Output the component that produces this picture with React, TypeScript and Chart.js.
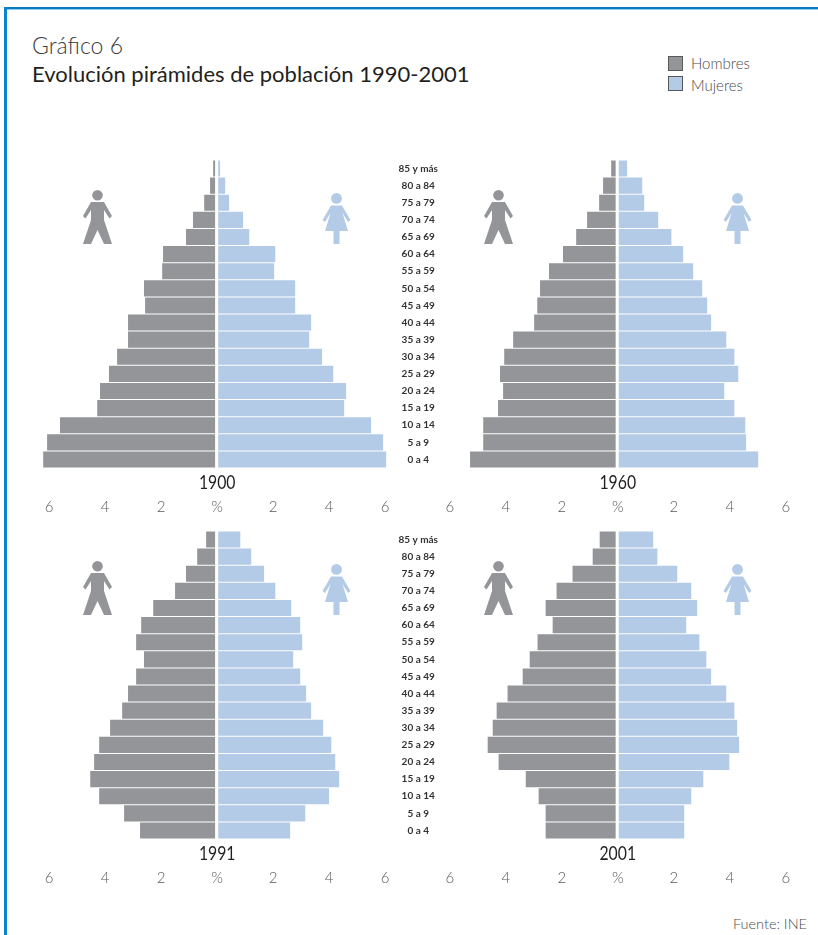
import React, { useEffect, useRef } from "react";
import { Chart, registerables } from "chart.js";

Chart.register(...registerables);

const ageGroups = ["85 y más", "80 a 84", "75 a 79", "70 a 74", "65 a 69", "60 a 64", "55 a 59", "50 a 54", "45 a 49", "40 a 44", "35 a 39", "30 a 34", "25 a 29", "20 a 24", "15 a 19", "10 a 14", "5 a 9", "0 a 4"];
const xTicks = [-6, -4, -2, 0, 2, 4, 6];

const men1900 = [0.07, 0.18, 0.39, 0.79, 1.04, 1.86, 1.89, 2.54, 2.5, 3.11, 3.11, 3.5, 3.79, 4.11, 4.21, 5.54, 6.0, 6.14];
const women1900 = [0.07, 0.25, 0.39, 0.89, 1.11, 2.04, 2.0, 2.75, 2.75, 3.32, 3.25, 3.71, 4.11, 4.57, 4.5, 5.46, 5.89, 6.0];
const men1960 = [0.16, 0.45, 0.59, 1.02, 1.41, 1.88, 2.38, 2.7, 2.8, 2.91, 3.66, 3.98, 4.13, 4.02, 4.2, 4.73, 4.73, 5.2];
const women1960 = [0.3, 0.84, 0.91, 1.41, 1.88, 2.3, 2.66, 2.98, 3.16, 3.3, 3.84, 4.13, 4.27, 3.77, 4.13, 4.52, 4.55, 4.98];
const men1991 = [0.32, 0.64, 1.04, 1.43, 2.21, 2.64, 2.82, 2.54, 2.82, 3.11, 3.32, 3.75, 4.14, 4.32, 4.46, 4.14, 3.25, 2.68];
const women1991 = [0.79, 1.18, 1.64, 2.04, 2.61, 2.93, 3.0, 2.68, 2.93, 3.14, 3.32, 3.75, 4.04, 4.18, 4.32, 3.96, 3.11, 2.57];
const men2001 = [0.57, 0.82, 1.54, 2.11, 2.5, 2.25, 2.79, 3.07, 3.32, 3.86, 4.25, 4.39, 4.57, 4.18, 3.21, 2.75, 2.5, 2.5];
const women2001 = [1.23, 1.38, 2.09, 2.59, 2.8, 2.41, 2.88, 3.13, 3.3, 3.84, 4.13, 4.23, 4.3, 3.95, 3.02, 2.59, 2.34, 2.34];

const GREY = "#939598";
const BLUE = "#b4cbe7";
const FONT = "Lato";

function Pyramid({ year, men, women, left, top, width, padLeft, padRight, showAges }: any) {
  const ref = useRef<HTMLCanvasElement>(null);
  useEffect(() => {
    const yearPlugin = {
      id: "yearLabel",
      afterDraw(chart: any) {
        const ctx = chart.ctx;
        ctx.save();
        ctx.font = `400 19px ${FONT}`;
        ctx.fillStyle = "#231f20";
        ctx.textAlign = "center";
        ctx.textBaseline = "middle";
        ctx.translate(chart.scales.x.getPixelForValue(0), chart.chartArea.bottom + 15);
        ctx.scale(0.83, 1);
        ctx.fillText(year, 0, 0);
        ctx.restore();
      },
    };
    const chart = new Chart(ref.current!, {
      type: "bar",
      data: {
        labels: ageGroups,
        datasets: [
          { label: "Hombres", data: men.map((v: number) => [-0.075, -0.075 - v]), backgroundColor: GREY, borderWidth: 0, grouped: false, barPercentage: 0.94, categoryPercentage: 1 },
          { label: "Mujeres", data: women.map((v: number) => [0.035, 0.035 + v]), backgroundColor: BLUE, borderWidth: 0, grouped: false, barPercentage: 0.94, categoryPercentage: 1 },
        ] as any,
      },
      plugins: [yearPlugin],
      options: {
        indexAxis: "y",
        animation: false,
        responsive: false,
        events: [],
        layout: { padding: { left: padLeft, right: padRight, top: 10, bottom: 0 } },
        plugins: { legend: { display: false }, title: { display: false }, tooltip: { enabled: false } },
        scales: {
          x: {
            type: "linear",
            min: -6.4,
            max: 6.4,
            grid: { display: false, drawTicks: false },
            border: { display: false },
            afterBuildTicks: (axis: any) => {
              axis.ticks = xTicks.map((value) => ({ value }));
            },
            afterFit: (axis: any) => {
              axis.height = 50;
              axis.paddingLeft = 0;
              axis.paddingRight = 0;
            },
            ticks: {
              autoSkip: false,
              maxRotation: 0,
              padding: 30,
              color: "#58595b",
              font: { family: FONT, size: 15, weight: "300" },
              callback: (v: any) => (Number(v) === 0 ? "%" : String(Math.abs(Number(v)))),
            },
          },
          y: {
            type: "category",
            position: "right",
            display: showAges,
            grid: { display: false, drawTicks: false },
            border: { display: false },
            afterFit: (axis: any) => {
              axis.width = showAges ? 44 : 0;
            },
            ticks: {
              autoSkip: false,
              padding: 2,
              crossAlign: "center",
              color: "#333333",
              font: { family: FONT, size: 10, weight: "700" },
            },
          },
        },
      } as any,
    });
    return () => chart.destroy();
  }, []);
  return <canvas ref={ref} width={width} height={368} style={{ position: "absolute", left, top, width, height: 368 }} />;
}

function Man({ left, top }: { left: number; top: number }) {
  return (
    <svg width={29} height={54} viewBox="0 0 29 54" style={{ position: "absolute", left, top }}>
      <circle cx={14.5} cy={5.3} r={5.3} fill={GREY} />
      <path d="M8 12 L21 12 L29 26 L26.5 28.5 L21 20 L21 30 L29 54 L21 54 L14.5 40 L8 54 L0 54 L8 30 L8 20 L2.5 28.5 L0 26 Z" fill={GREY} />
    </svg>
  );
}

function Woman({ left, top }: { left: number; top: number }) {
  return (
    <svg width={29} height={51} viewBox="0 0 29 51" style={{ position: "absolute", left, top }}>
      <circle cx={14.5} cy={5.4} r={5.4} fill={BLUE} />
      <path d="M9 12.5 L20 12.5 L28.5 27 L26 29 L20.5 20 L26 38 L17.5 38 L17.5 51 L11.5 51 L11.5 38 L3 38 L8.5 20 L3 29 L0.5 27 Z" fill={BLUE} />
    </svg>
  );
}

const text = (extra: React.CSSProperties): React.CSSProperties => ({ position: "absolute", fontFamily: FONT, whiteSpace: "nowrap", ...extra });

export default function App() {
  return (
    <div style={{ position: "absolute", left: 0, top: 0, width: 818, height: 935, background: "#fff", overflow: "hidden" }}>
      <div style={{ position: "absolute", left: 4, top: 7, width: 814, height: 2, background: "#0a79be" }} />
      <div style={{ position: "absolute", left: 7, top: 9, width: 811, height: 1, background: "#8fcdf0" }} />
      <div style={{ position: "absolute", left: 4, top: 7, width: 3, height: 928, background: "#0b84d0" }} />

      <div style={text({ left: 32, top: 30, fontSize: 23, fontWeight: 300, lineHeight: "30px", color: "#3a3a3c" })}>Gráfico 6</div>
      <div style={text({ left: 32, top: 59, fontSize: 22, fontWeight: 400, lineHeight: "30px", color: "#231f20" })}>Evolución pirámides de población 1990-2001</div>

      <div style={{ position: "absolute", left: 668, top: 56, width: 13, height: 13, background: GREY, border: "1.5px solid #58595b" }} />
      <div style={{ position: "absolute", left: 668, top: 76, width: 13, height: 13, background: BLUE, border: "1.5px solid #58595b" }} />
      <div style={text({ left: 691, top: 53, fontSize: 15, fontWeight: 300, lineHeight: "20px", color: "#4a4a4c" })}>Hombres</div>
      <div style={text({ left: 691, top: 75, fontSize: 15, fontWeight: 300, lineHeight: "20px", color: "#4a4a4c" })}>Mujeres</div>

      <Pyramid year="1900" men={men1900} women={women1900} left={20} top={150} width={430} padLeft={18} padRight={9.6} showAges />
      <Pyramid year="1960" men={men1960} women={women1960} left={430} top={150} width={380} padLeft={8.55} padRight={13.05} showAges={false} />
      <Pyramid year="1991" men={men1991} women={women1991} left={20} top={521} width={430} padLeft={18} padRight={9.6} showAges />
      <Pyramid year="2001" men={men2001} women={women2001} left={430} top={521} width={380} padLeft={8.55} padRight={13.05} showAges={false} />

      <Man left={83} top={190} />
      <Woman left={322} top={193} />
      <Man left={484} top={190} />
      <Woman left={723} top={193} />
      <Man left={83} top={561} />
      <Woman left={322} top={564} />
      <Man left={484} top={561} />
      <Woman left={723} top={564} />

      <div style={text({ right: 11, top: 914, fontSize: 14.5, fontWeight: 300, lineHeight: "20px", color: "#4a4a4c" })}>Fuente: INE</div>
    </div>
  );
}
